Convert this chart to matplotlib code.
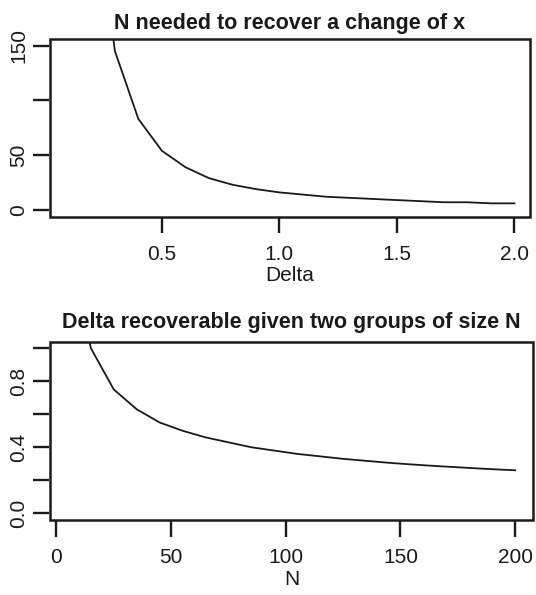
import numpy as np
import matplotlib
matplotlib.use("Agg")
import matplotlib.pyplot as plt
from matplotlib.patches import Rectangle

plt.rcParams['font.family'] = ['Liberation Sans', 'DejaVu Sans']

# top panel: N needed per group for a given delta
delta = [0.1, 0.2, 0.3, 0.4, 0.5, 0.6, 0.7, 0.8, 0.9, 1.0,
         1.1, 1.2, 1.3, 1.4, 1.5, 1.6, 1.7, 1.8, 1.9, 2.0]
n_needed = [1280, 320, 145, 83, 54, 39, 29, 23, 19, 16,
            14, 12, 11, 10, 9, 8, 7, 7, 6, 6]

# bottom panel: delta recoverable for group size N
n_size = [5, 15, 25, 35, 45, 55, 65, 75, 85, 95, 105,
          115, 125, 135, 145, 155, 165, 175, 185, 195, 200]
delta_rec = [1.65, 1.00, 0.75, 0.63, 0.55, 0.50, 0.46, 0.43, 0.40, 0.38, 0.36,
             0.345, 0.33, 0.318, 0.306, 0.296, 0.287, 0.279, 0.271, 0.264, 0.261]

W, H = 536, 595
fig = plt.figure(figsize=(W / 100, H / 100), dpi=100)
ink = '#1a1a1a'
fs = 15


def r_style(ax):
    # R-like axes: box drawn as a patch, outward ticks
    for s in ax.spines.values():
        s.set_visible(False)
    ax.spines['left'].set_visible(True)
    ax.spines['bottom'].set_visible(True)
    ax.spines['left'].set_position(('outward', 0.7))
    ax.spines['bottom'].set_position(('outward', 0.7))
    ax.spines['left'].set_color('none')
    ax.spines['bottom'].set_color('none')
    ax.add_patch(Rectangle((0, 0), 1, 1, transform=ax.transAxes, fill=False,
                           lw=1.8, ec=ink, clip_on=False, zorder=5))
    ax.tick_params(direction='out', length=11.5, width=1.7, color=ink,
                   labelsize=fs, labelcolor=ink)
    ax.tick_params(axis='x', pad=8)
    ax.tick_params(axis='y', pad=3.5)
    for lab in ax.get_yticklabels():
        lab.set_rotation(90)
        lab.set_va('center')


ax1 = fig.add_axes([50 / W, 1 - 216.5 / H, 480 / W, 177.5 / H])
ax1.plot(delta, n_needed, color=ink, lw=1.3)
ax1.set_xlim(0.024, 2.066)
ax1.set_ylim(-6, 156)
ax1.set_xticks([0.5, 1.0, 1.5, 2.0])
ax1.set_xticklabels(['0.5', '1.0', '1.5', '2.0'])
ax1.set_yticks([0, 50, 100, 150])
ax1.set_yticklabels(['0', '50', '', '150'])
r_style(ax1)
ax1.set_xlabel('Delta', fontsize=fs, color=ink, labelpad=2)
ax1.set_title('N needed to recover a change of x', fontsize=15.5,
              fontweight='bold', color=ink, pad=7)

ax2 = fig.add_axes([50 / W, 1 - 520 / H, 483 / W, 178.5 / H])
ax2.plot(n_size, delta_rec, color=ink, lw=1.3)
ax2.set_xlim(-2.8, 207.8)
ax2.set_ylim(-0.04, 1.04)
ax2.set_xticks([0, 50, 100, 150, 200])
ax2.set_xticklabels(['0', '50', '100', '150', '200'])
ax2.set_yticks([0.0, 0.2, 0.4, 0.6, 0.8, 1.0])
ax2.set_yticklabels(['0.0', '', '0.4', '', '0.8', ''])
r_style(ax2)
ax2.set_xlabel('N', fontsize=fs, color=ink, labelpad=2)
ax2.set_title('Delta recoverable given two groups of size N', fontsize=15.5,
              fontweight='bold', color=ink, pad=10)

fig.savefig('out.png', dpi=100)
